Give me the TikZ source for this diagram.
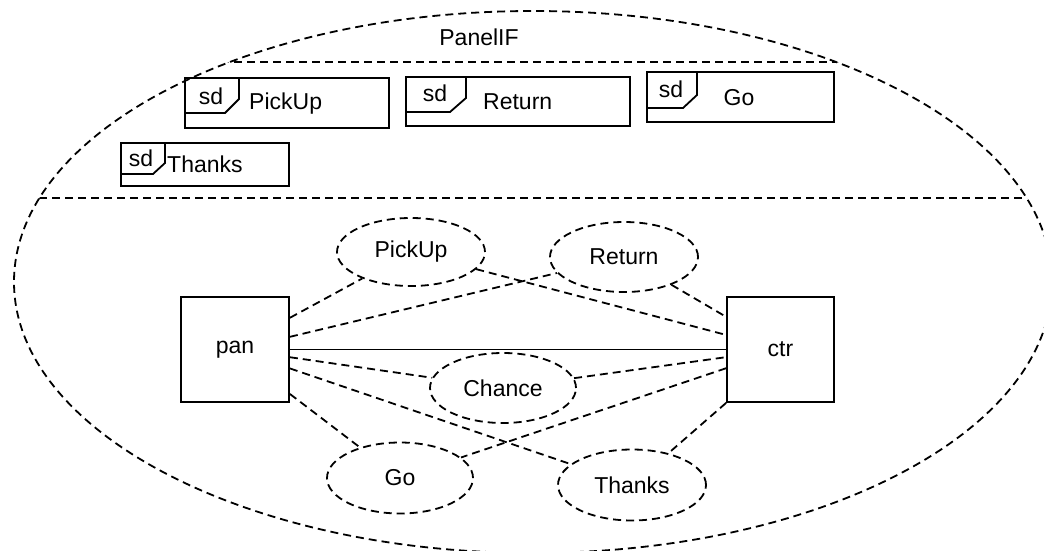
\documentclass[tikz,border=0pt]{standalone}
\usepackage{fontspec}
\setmainfont{Liberation Sans}
\usetikzlibrary{shapes.geometric}
\tikzset{
  dsh/.style={line width=1.8pt, dash pattern=on 8pt off 5pt},
  frame/.style={line width=1.8pt},
  lbl/.style={inner sep=0pt, font=\fontsize{23}{27}\selectfont},
  blk/.style={draw, line width=1.8pt, rectangle, inner sep=0pt, minimum width=107pt, minimum height=105pt, font=\fontsize{23}{27}\selectfont},
  uc/.style={draw, dsh, ellipse, inner sep=0pt, font=\fontsize{23}{27}\selectfont},
}
\begin{document}
\begin{tikzpicture}[x=1pt,y=-1pt]
\useasboundingbox (0,0) rectangle (1044,551);
% outer dashed ellipse and separators
\draw[dsh] (533,282) ellipse [x radius=519, y radius=271];
\begin{scope}
  \clip (533,282) ellipse [x radius=519, y radius=271];
  \draw[dsh] (0,62) -- (1044,62);
  \draw[dsh] (0,198) -- (1044,198);
\end{scope}
\node[lbl] (title) at (479,37) {PanelIF};

% sd PickUp
\draw[frame] (185,78) rectangle (389,128);
\draw[frame] (185,113) -- (225,113) -- (239,99) -- (239,78);
\node[lbl,anchor=base] (sdA) at (211,104) {sd};
\node[lbl,anchor=base west] (sdAt) at (249,110) {PickUp};
% sd Return
\draw[frame] (406,77) rectangle (630,126);
\draw[frame] (406,112) -- (450,112) -- (466,98) -- (466,77);
\node[lbl,anchor=base] (sdB) at (435,101) {sd};
\node[lbl,anchor=base west] (sdBt) at (483,109) {Return};
% sd Go
\draw[frame] (647,72) rectangle (834,122);
\draw[frame] (647,108) -- (683,108) -- (697,95) -- (697,72);
\node[lbl,anchor=base] (sdC) at (671,97) {sd};
\node[lbl,anchor=base] (sdCt) at (739,105) {Go};
% sd Thanks
\draw[frame] (121,143) rectangle (289,186);
\draw[frame] (121,174) -- (153,174) -- (165,163) -- (165,143);
\node[lbl,anchor=base] (sdD) at (141,166) {sd};
\node[lbl,anchor=base west] (sdDt) at (167,172) {Thanks};

% lower part
\node[blk, minimum width=108pt] (pan) at (235,349.5) {pan};
\node[blk] (ctr) at (780.5,349.5) {ctr};
\node[uc, minimum width=148pt, minimum height=68pt] (uPick) at (411,252) {PickUp};
\node[uc, minimum width=148pt, minimum height=70pt] (uRet) at (624,257) {Return};
\node[uc, minimum width=146pt, minimum height=70pt] (uCh) at (503,388) {Chance};
\node[uc, minimum width=146pt, minimum height=71pt] (uGo) at (400,478) {Go};
\node[uc, minimum width=148pt, minimum height=71pt] (uTh) at (632,485) {Thanks};

\draw[frame] (pan.east) -- (ctr.west);
\draw[dsh] (pan.30) -- (uPick);
\draw[dsh] (pan.13) -- (uRet);
\draw[dsh] (uPick) -- (ctr.165);
\draw[dsh] (uRet) -- (ctr.149);
\draw[dsh] (pan.-8) -- (uCh);
\draw[dsh] (uCh) -- (ctr.188);
\draw[dsh] (pan.-19) -- (uTh);
\draw[dsh] (ctr.199) -- (uGo);
\draw[dsh] (pan.-39) -- (uGo);
\draw[dsh] (ctr.south west) -- (uTh);
\end{tikzpicture}
\end{document}
